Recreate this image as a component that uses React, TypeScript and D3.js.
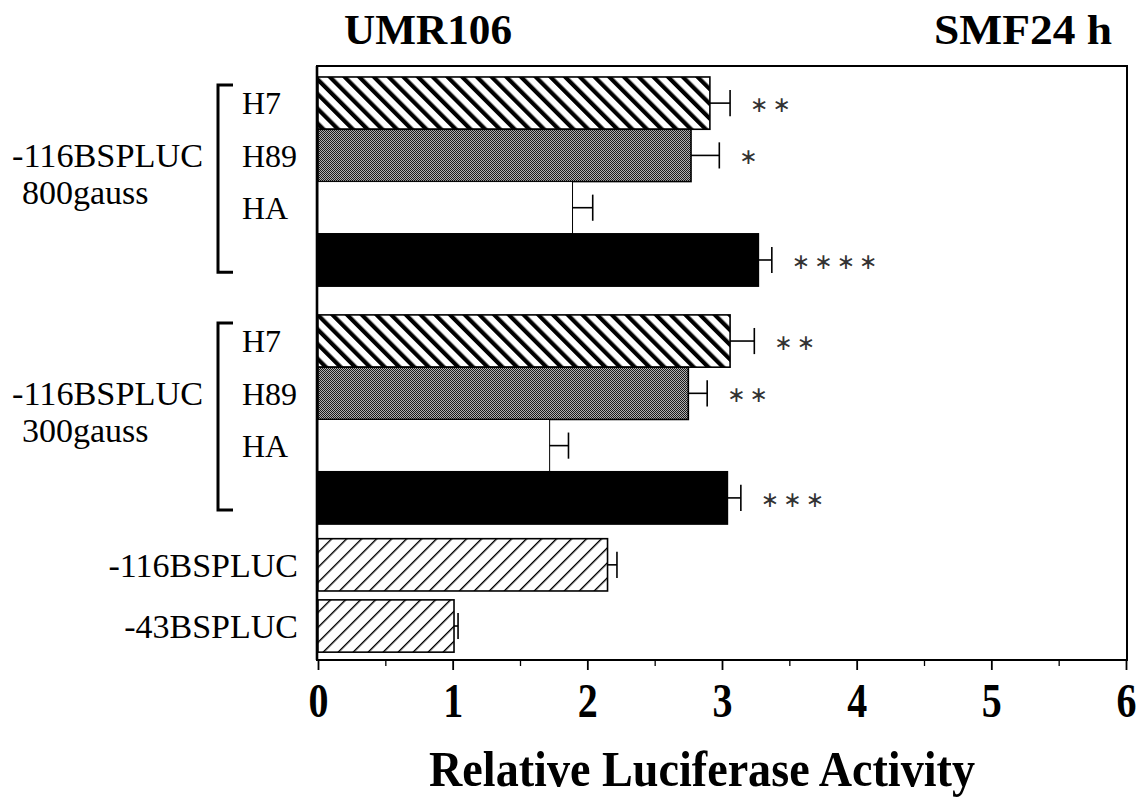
import { useRef, useEffect } from 'react';
import * as d3 from 'd3';

// treatments inside each bracketed group (last one is the untreated black bar)
const treatments = ['H7', 'H89', 'HA', ''];
const patternsByTreatment = ['heavyHatch', 'dots', 'white', 'black'];

const gauss800Values = [2.91, 2.77, 1.89, 3.27];
const gauss800Errors = [0.15, 0.21, 0.15, 0.1];
const gauss800Signif = ['**', '*', '', '****'];

const gauss300Values = [3.06, 2.75, 1.72, 3.04];
const gauss300Errors = [0.18, 0.14, 0.14, 0.1];
const gauss300Signif = ['**', '**', '', '***'];

const controlLabels = ['-116BSPLUC', '-43BSPLUC'];
const controlValues = [2.15, 1.01];
const controlErrors = [0.07, 0.03];

const groupLabels = [
  ['-116BSPLUC', '800gauss'],
  ['-116BSPLUC', '300gauss'],
];

const xTicks = [0, 1, 2, 3, 4, 5, 6];
const xMinorTicks = [0.5, 1.5, 2.5, 3.5, 4.5, 5.5];

const WIDTH = 1139;
const HEIGHT = 800;
const PLOT = { left: 317, right: 1127, top: 66, bottom: 660 };
const SERIF = '"Liberation Serif", "Times New Roman", Times, serif';

interface Row {
  start: number; // slot position, in bar heights
  value: number;
  err: number;
  sig: string;
  pattern: string;
}

export default function App() {
  const svgRef = useRef<SVGSVGElement>(null);

  useEffect(() => {
    if (!svgRef.current) return;
    const svg = d3.select(svgRef.current);
    svg.selectAll('*').remove();

    // Build the row layout: gaps between blocks are expressed in bar heights
    const gaps = { top: 0.21, groups: 0.55, controls: 0.28, between: 0.17, bottom: 0.15 };
    const rows: Row[] = [];
    let pos = gaps.top;
    const groupSpans: [number, number][] = [];
    const blocks = [
      { values: gauss800Values, errs: gauss800Errors, sig: gauss800Signif },
      { values: gauss300Values, errs: gauss300Errors, sig: gauss300Signif },
    ];
    blocks.forEach((b, bi) => {
      const s = pos;
      b.values.forEach((v, i) => {
        rows.push({ start: pos, value: v, err: b.errs[i], sig: b.sig[i], pattern: patternsByTreatment[i] });
        pos += 1;
      });
      groupSpans.push([s, pos]);
      pos += bi === 0 ? gaps.groups : gaps.controls;
    });
    const controlStarts: number[] = [];
    controlValues.forEach((v, i) => {
      controlStarts.push(pos);
      rows.push({ start: pos, value: v, err: controlErrors[i], sig: '', pattern: 'thinHatch' });
      pos += 1;
      if (i < controlValues.length - 1) pos += gaps.between;
    });
    pos += gaps.bottom;

    const x = d3.scaleLinear().domain([0, 6]).range([PLOT.left + 1, PLOT.right - 1]);
    const y = d3.scaleLinear().domain([0, pos]).range([PLOT.top, PLOT.bottom]);
    const unit = y(1) - y(0);

    // Patterns
    const defs = svg.append('defs');
    const heavy = defs.append('pattern')
      .attr('id', 'heavyHatch')
      .attr('patternUnits', 'userSpaceOnUse')
      .attr('width', 10.4)
      .attr('height', 10.4)
      .attr('patternTransform', 'rotate(-45)');
    heavy.append('rect').attr('width', 10.4).attr('height', 10.4).attr('fill', '#fff');
    heavy.append('rect').attr('width', 4.2).attr('height', 10.4).attr('fill', '#000');

    const thin = defs.append('pattern')
      .attr('id', 'thinHatch')
      .attr('patternUnits', 'userSpaceOnUse')
      .attr('width', 10.6)
      .attr('height', 10.6)
      .attr('patternTransform', 'rotate(45)');
    thin.append('rect').attr('width', 10.6).attr('height', 10.6).attr('fill', '#fff');
    thin.append('rect').attr('width', 1.4).attr('height', 10.6).attr('fill', '#000');

    const dots = defs.append('pattern')
      .attr('id', 'dots')
      .attr('patternUnits', 'userSpaceOnUse')
      .attr('width', 2)
      .attr('height', 2);
    dots.append('rect').attr('width', 2).attr('height', 2).attr('fill', '#b0b0b0');
    dots.append('rect').attr('width', 1).attr('height', 1).attr('fill', '#1a1a1a');
    dots.append('rect').attr('x', 1).attr('y', 1).attr('width', 1).attr('height', 1).attr('fill', '#1a1a1a');

    const fillFor = (p: string) => {
      if (p === 'black') return '#000';
      if (p === 'white') return '#fff';
      return `url(#${p})`;
    };

    // Frame
    svg.append('rect')
      .attr('x', PLOT.left)
      .attr('y', PLOT.top)
      .attr('width', PLOT.right - PLOT.left)
      .attr('height', PLOT.bottom - PLOT.top)
      .attr('fill', 'none')
      .attr('stroke', '#000')
      .attr('stroke-width', 2);
    svg.append('line')
      .attr('x1', PLOT.left)
      .attr('x2', PLOT.left)
      .attr('y1', PLOT.top)
      .attr('y2', PLOT.bottom)
      .attr('stroke', '#000')
      .attr('stroke-width', 2.6);

    // Bars
    svg.append('g')
      .selectAll('rect')
      .data(rows)
      .join('rect')
      .attr('x', x(0))
      .attr('y', (d) => y(d.start))
      .attr('width', (d) => x(d.value) - x(0))
      .attr('height', unit)
      .attr('fill', (d) => fillFor(d.pattern))
      .attr('stroke', '#000')
      .attr('stroke-width', (d) => (d.pattern === 'white' ? 1 : 1.6));

    // Error bars
    const eb = svg.append('g').attr('stroke', '#000').attr('stroke-width', 1.6);
    rows.forEach((d) => {
      const cy = y(d.start + 0.5);
      eb.append('line').attr('x1', x(d.value)).attr('x2', x(d.value + d.err)).attr('y1', cy).attr('y2', cy);
      eb.append('line')
        .attr('x1', x(d.value + d.err))
        .attr('x2', x(d.value + d.err))
        .attr('y1', cy - unit * 0.25)
        .attr('y2', cy + unit * 0.25);
    });

    // Significance stars
    svg.append('g')
      .selectAll('text')
      .data(rows.filter((d) => d.sig))
      .join('text')
      .attr('x', (d) => x(d.value + d.err) + 20)
      .attr('y', (d) => y(d.start + 0.5) + 9)
      .attr('font-family', '"DejaVu Sans", sans-serif')
      .attr('font-size', 22)
      .attr('letter-spacing', 4)
      .attr('fill', '#333')
      .text((d) => d.sig.replace(/\*/g, '\u2217'));

    // X axis ticks (labels drawn below)
    const axisG = svg.append('g').attr('transform', `translate(0,${PLOT.bottom})`);
    axisG.call(d3.axisBottom(x).tickValues(xTicks).tickSize(10).tickFormat(d3.format('d')))
      .call((g) => g.select('.domain').remove());
    axisG.selectAll('.tick line').attr('stroke-width', 1.8);
    axisG.selectAll('.tick text')
      .attr('y', 57)
      .attr('dy', 0)
      .attr('font-family', SERIF)
      .attr('font-weight', 'bold')
      .attr('font-size', 48)
      .attr('textLength', 20)
      .attr('lengthAdjust', 'spacingAndGlyphs')
      .attr('fill', '#000');
    const minorG = svg.append('g').attr('transform', `translate(0,${PLOT.bottom})`);
    minorG.call(d3.axisBottom(x).tickValues(xMinorTicks).tickSize(6).tickFormat(() => ''))
      .call((g) => g.select('.domain').remove());
    minorG.selectAll('.tick line').attr('stroke-width', 1.3);

    // X axis title
    svg.append('text')
      .attr('x', 702)
      .attr('y', 786)
      .attr('text-anchor', 'middle')
      .attr('font-family', SERIF)
      .attr('font-weight', 'bold')
      .attr('font-size', 50)
      .attr('textLength', 546)
      .attr('lengthAdjust', 'spacingAndGlyphs')
      .text('Relative Luciferase Activity');

    // Titles
    svg.append('text')
      .attr('x', 344)
      .attr('y', 44)
      .attr('font-family', SERIF)
      .attr('font-weight', 'bold')
      .attr('font-size', 42)
      .attr('textLength', 168)
      .attr('lengthAdjust', 'spacingAndGlyphs')
      .text('UMR106');
    svg.append('text')
      .attr('x', 934)
      .attr('y', 44)
      .attr('font-family', SERIF)
      .attr('font-weight', 'bold')
      .attr('font-size', 42)
      .attr('textLength', 178)
      .attr('lengthAdjust', 'spacingAndGlyphs')
      .text('SMF24 h');

    // Group brackets and labels
    const labelG = svg.append('g').attr('font-family', SERIF).attr('fill', '#000');
    groupSpans.forEach(([s, e], gi) => {
      const top = y(s) + 8;
      const bot = y(e) - 14;
      labelG.append('path')
        .attr('d', `M233,${top}H218V${bot}H233`)
        .attr('fill', 'none')
        .attr('stroke', '#000')
        .attr('stroke-width', 3);
      treatments.forEach((t, i) => {
        if (!t) return;
        labelG.append('text')
          .attr('x', 242)
          .attr('y', y(s + i + 0.5))
          .attr('dy', '0.35em')
          .attr('font-size', 32)
          .text(t);
      });
      const cy = y(s + 1.5);
      labelG.append('text')
        .attr('x', 12)
        .attr('y', cy + 12)
        .attr('font-size', 34)
        .attr('textLength', 191)
        .attr('lengthAdjust', 'spacingAndGlyphs')
        .text(groupLabels[gi][0]);
      labelG.append('text')
        .attr('x', 22)
        .attr('y', cy + 49)
        .attr('font-size', 34)
        .text(groupLabels[gi][1]);
    });

    // Control labels
    controlLabels.forEach((lab, i) => {
      labelG.append('text')
        .attr('x', 298)
        .attr('y', y(controlStarts[i] + 0.5))
        .attr('dy', '0.35em')
        .attr('text-anchor', 'end')
        .attr('font-size', 34)
        .text(lab);
    });
  }, []);

  return (
    <svg
      ref={svgRef}
      width={WIDTH}
      height={HEIGHT}
      viewBox={`0 0 ${WIDTH} ${HEIGHT}`}
      style={{ position: 'absolute', left: 0, top: 0, background: '#fff' }}
    />
  );
}
